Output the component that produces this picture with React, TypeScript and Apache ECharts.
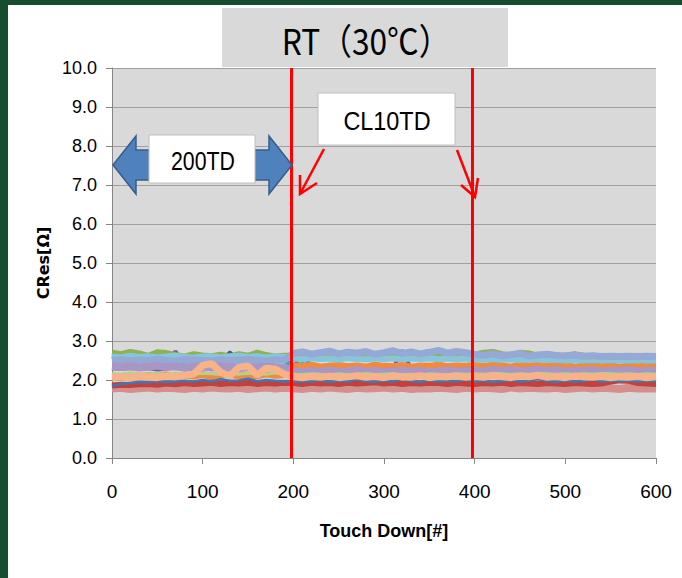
import React, { useEffect, useRef } from "react";
import * as echarts from "echarts";

const TD = [0, 10, 20, 30, 40, 50, 60, 70, 80, 90, 100, 110, 120, 130, 140, 150, 160, 170, 180, 190, 200, 210, 220, 230, 240, 250, 260, 270, 280, 290, 300, 310, 320, 330, 340, 350, 360, 370, 380, 390, 400, 410, 420, 430, 440, 450, 460, 470, 480, 490, 500, 510, 520, 530, 540, 550, 560, 570, 580, 590, 600];

const yTicks = [0, 1, 2, 3, 4, 5, 6, 7, 8, 9, 10];
const xTicks = [0, 100, 200, 300, 400, 500, 600];
const cutLines = [198, 397];

const navy = [2.52, 2.50, 2.53, 2.51, 2.50, 2.52, 2.49, 2.51, 2.53, 2.50, 2.52, 2.51, 2.50, 2.72, 2.51, 2.53, 2.50, 2.52, 2.51, 2.50,
  2.60, 2.62, 2.58, 2.61, 2.63, 2.59, 2.62, 2.60, 2.61, 2.59, 2.62, 2.60, 2.58, 2.61, 2.60, 2.62, 2.59, 2.61, 2.60, 2.62,
  2.58, 2.60, 2.57, 2.59, 2.58, 2.56, 2.60, 2.58, 2.57, 2.58, 2.56, 2.55, 2.56, 2.55, 2.56, 2.55, 2.56, 2.55, 2.56, 2.55, 2.55];
const purple = [2.30, 2.28, 2.31, 2.29, 2.30, 2.27, 2.29, 2.74, 2.30, 2.28, 2.31, 2.29, 2.30, 2.28, 2.31, 2.29, 2.30, 2.28, 2.29, 2.30,
  2.28, 2.76, 2.27, 2.29, 2.28, 2.30, 2.27, 2.29, 2.28, 2.30, 2.27, 2.29, 2.76, 2.28, 2.30, 2.27, 2.29, 2.28, 2.30, 2.28,
  2.29, 2.28, 2.30, 2.27, 2.29, 2.28, 2.30, 2.29, 2.27, 2.28, 2.30, 2.29, 2.28, 2.30, 2.27, 2.29, 2.28, 2.30, 2.29, 2.28, 2.29];
const green = [2.70, 2.66, 2.72, 2.68, 2.62, 2.71, 2.69, 2.64, 2.60, 2.66, 2.63, 2.61, 2.65, 2.60, 2.66, 2.62, 2.70, 2.64, 2.60, 2.62,
  2.62, 2.64, 2.60, 2.63, 2.61, 2.65, 2.62, 2.60, 2.64, 2.61, 2.63, 2.60, 2.62, 2.65, 2.61, 2.63, 2.60, 2.64, 2.62, 2.61,
  2.65, 2.70, 2.72, 2.66, 2.62, 2.70, 2.68, 2.62, 2.60, 2.63, 2.60, 2.66, 2.62, 2.58, 2.57, 2.58, 2.56, 2.57, 2.56, 2.57, 2.56];
const aqua = [2.62, 2.55, 2.50, 2.52, 2.49, 2.51, 2.50, 2.53, 2.48, 2.50, 2.52, 2.49, 2.51, 2.50, 2.48, 2.52, 2.50, 2.49, 2.51, 2.50,
  2.36, 2.40, 2.34, 2.33, 2.38, 2.35, 2.32, 2.36, 2.34, 2.37, 2.33, 2.35, 2.38, 2.34, 2.36, 2.33, 2.37, 2.35, 2.34, 2.36,
  2.34, 2.33, 2.35, 2.32, 2.34, 2.33, 2.35, 2.34, 2.33, 2.32, 2.34, 2.33, 2.32, 2.34, 2.33, 2.32, 2.33, 2.34, 2.32, 2.33, 2.33];
const orange = [2.10, 2.08, 2.12, 2.09, 2.11, 2.10, 2.13, 2.08, 2.12, 2.10, 2.14, 2.09, 2.12, 2.15, 2.10, 2.13, 2.11, 2.16, 2.12, 2.14,
  2.36, 2.34, 2.38, 2.33, 2.35, 2.37, 2.34, 2.36, 2.33, 2.38, 2.35, 2.34, 2.37, 2.33, 2.36, 2.35, 2.38, 2.34, 2.36, 2.35,
  2.37, 2.34, 2.38, 2.36, 2.33, 2.39, 2.35, 2.37, 2.34, 2.36, 2.38, 2.33, 2.35, 2.37, 2.34, 2.36, 2.33, 2.35, 2.34, 2.36, 2.35];
const lightAqua = [2.60, 2.58, 2.62, 2.59, 2.61, 2.58, 2.60, 2.62, 2.59, 2.57, 2.60, 2.61, 2.58, 2.60, 2.62, 2.59, 2.61, 2.58, 2.60, 2.59,
  2.55, 2.53, 2.56, 2.54, 2.55, 2.52, 2.56, 2.54, 2.53, 2.55, 2.54, 2.56, 2.53, 2.55, 2.54, 2.56, 2.53, 2.55, 2.54, 2.55,
  2.53, 2.52, 2.54, 2.52, 2.53, 2.51, 2.52, 2.53, 2.51, 2.52, 2.50, 2.51, 2.50, 2.51, 2.50, 2.51, 2.50, 2.50, 2.51, 2.50, 2.50];
const lightBlue = [2.50, 2.52, 2.49, 2.51, 2.50, 2.53, 2.50, 2.48, 2.52, 2.51, 2.50, 2.49, 2.52, 2.50, 2.51, 2.53, 2.50, 2.49, 2.52, 2.51,
  2.68, 2.72, 2.66, 2.70, 2.74, 2.67, 2.71, 2.69, 2.73, 2.66, 2.70, 2.75, 2.68, 2.72, 2.67, 2.71, 2.76, 2.69, 2.73, 2.70,
  2.66, 2.63, 2.67, 2.62, 2.65, 2.68, 2.61, 2.64, 2.66, 2.63, 2.62, 2.64, 2.61, 2.62, 2.60, 2.61, 2.60, 2.61, 2.60, 2.61, 2.60];
const lightPurple = [2.35, 2.33, 2.36, 2.32, 2.34, 2.37, 2.33, 2.35, 2.31, 2.34, 2.36, 2.32, 2.35, 2.33, 2.30, 2.34, 2.32, 2.35, 2.33, 2.31,
  2.22, 2.20, 2.23, 2.21, 2.24, 2.20, 2.22, 2.25, 2.21, 2.23, 2.20, 2.22, 2.24, 2.21, 2.23, 2.20, 2.22, 2.24, 2.21, 2.23,
  2.24, 2.22, 2.26, 2.23, 2.25, 2.22, 2.24, 2.26, 2.23, 2.25, 2.22, 2.24, 2.23, 2.25, 2.22, 2.24, 2.23, 2.25, 2.22, 2.24, 2.23];
const lightGreen = [2.17, 2.15, 2.18, 2.16, 2.14, 2.17, 2.15, 2.18, 2.16, 2.15, 2.17, 2.16, 2.14, 2.18, 2.15, 2.17, 2.16, 2.15, 2.18, 2.16,
  2.15, 2.14, 2.16, 2.15, 2.13, 2.16, 2.14, 2.15, 2.17, 2.14, 2.15, 2.16, 2.14, 2.15, 2.13, 2.16, 2.15, 2.14, 2.16, 2.15,
  2.16, 2.15, 2.17, 2.16, 2.14, 2.16, 2.15, 2.17, 2.16, 2.15, 2.16, 2.14, 2.16, 2.15, 2.17, 2.16, 2.15, 2.16, 2.14, 2.16, 2.15];
const pink = [1.78, 1.80, 1.77, 1.79, 1.81, 1.78, 1.80, 1.79, 1.77, 1.80, 1.78, 1.81, 1.79, 1.78, 1.80, 1.77, 1.79, 1.81, 1.78, 1.80,
  1.79, 1.77, 1.80, 1.78, 1.81, 1.79, 1.77, 1.80, 1.78, 1.79, 1.81, 1.78, 1.80, 1.77, 1.79, 1.78, 1.80, 1.79, 1.77, 1.80,
  1.78, 1.80, 1.79, 1.77, 1.81, 1.78, 1.80, 1.79, 1.78, 1.80, 1.77, 1.79, 1.81, 1.78, 1.80, 1.79, 1.77, 1.80, 1.78, 1.79, 1.78];
const red = [1.86, 1.88, 1.87, 1.89, 1.90, 1.88, 1.91, 1.89, 1.92, 1.90, 1.91, 1.93, 1.90, 1.92, 1.91, 1.93, 1.90, 1.92, 1.91, 1.93,
  1.92, 1.90, 1.93, 1.91, 1.92, 1.90, 1.93, 1.91, 1.92, 1.94, 1.91, 1.93, 1.90, 1.92, 1.91, 1.93, 1.92, 1.90, 1.93, 1.91,
  1.90, 1.92, 1.91, 1.93, 1.90, 1.92, 1.91, 1.90, 1.92, 1.91, 1.90, 1.92, 1.91, 1.90, 1.91, 1.96, 1.99, 1.98, 1.92, 1.91, 1.90];
const blue = [1.84, 1.90, 1.93, 1.95, 1.94, 1.97, 1.95, 1.96, 1.98, 1.96, 2.00, 1.97, 2.02, 1.98, 1.99, 2.03, 1.97, 2.00, 1.98, 1.97,
  1.95, 1.97, 1.96, 2.00, 1.95, 1.98, 1.96, 2.02, 1.97, 1.95, 1.98, 1.96, 2.03, 1.97, 1.95, 1.99, 1.96, 1.98, 1.97, 2.01,
  1.96, 1.98, 1.95, 1.97, 2.00, 1.96, 1.98, 2.03, 1.97, 1.95, 1.98, 1.96, 1.97, 2.02, 1.96, 1.98, 1.97, 1.99, 1.96, 1.98, 1.97];
const peach = [2.06, 2.08, 2.05, 2.09, 2.07, 2.06, 2.10, 2.08, 2.12, 2.15, 2.38, 2.42, 2.20, 2.10, 2.33, 2.36, 2.12, 2.30, 2.28, 2.15,
  2.08, 2.06, 2.09, 2.07, 2.10, 2.06, 2.08, 2.11, 2.07, 2.09, 2.06, 2.10, 2.08, 2.07, 2.11, 2.06, 2.09, 2.08, 2.10, 2.07,
  2.09, 2.07, 2.11, 2.08, 2.06, 2.10, 2.08, 2.12, 2.07, 2.09, 2.06, 2.10, 2.08, 2.07, 2.09, 2.06, 2.08, 2.07, 2.09, 2.06, 2.08];

const SANS = '"Liberation Sans", Arial, sans-serif';
const CJK = '"Noto Sans CJK JP", "Noto Sans", sans-serif';

export default function App() {
  const ref = useRef<HTMLDivElement>(null);
  useEffect(() => {
    if (!ref.current) return;
    const chart = echarts.init(ref.current, undefined, { renderer: "svg" });
    const mk = (name: string, values: number[], color: string, width: number, extra: any = {}) => ({
      type: "line",
      name,
      data: TD.map((x, i) => [x, values[i]]),
      symbol: "none",
      showSymbol: false,
      silent: true,
      lineStyle: { color, width },
      itemStyle: { color },
      ...extra,
    });
    const series = [
      mk("S1", navy, "#3A5F9E", 3),
      mk("S2", purple, "#7A5C9E", 4),
      mk("S3", green, "#8DB255", 6),
      mk("S4", aqua, "#3FA6C0", 5),
      mk("S5", orange, "#F08A3C", 7),
      mk("S6", lightAqua, "#87C6DA", 6),
      mk("S7", lightBlue, "#95A9D6", 7),
      mk("S8", lightPurple, "#A897C5", 8),
      mk("S9", lightGreen, "#B5CF8C", 3),
      mk("S10", pink, "#D58E8C", 8),
      mk("S11", red, "#C0413E", 6),
      mk("S12", blue, "#3F78B5", 2.5),
      mk("S13", peach, "#F7B287", 7, {
        markLine: {
          silent: true,
          symbol: ["none", "none"],
          label: { show: false },
          lineStyle: { color: "#FF0000", width: 3, type: "solid" },
          data: cutLines.map((v) => ({ xAxis: v })),
        },
      }),
    ];
    const textEl = (text: string, x: number, y: number, size: number, sx: number, font: string) => ({
      type: "text",
      silent: true,
      x,
      y,
      scaleX: sx,
      z: 12,
      style: { text, font: `${size}px ${font}`, fill: "#000", align: "center", verticalAlign: "middle" },
    });
    chart.setOption({
      animation: false,
      backgroundColor: "transparent",
      grid: {
        left: 112,
        right: 26,
        top: 68,
        bottom: 120,
        show: true,
        backgroundColor: "#D9D9D9",
        borderWidth: 0,
      },
      xAxis: {
        type: "value",
        min: xTicks[0],
        max: xTicks[xTicks.length - 1],
        interval: 100,
        name: "Touch Down[#]",
        nameLocation: "middle",
        nameGap: 64,
        nameTextStyle: { fontFamily: SANS, fontWeight: "bold", fontSize: 18, color: "#000" },
        axisLine: { show: true, lineStyle: { color: "#868686", width: 1 } },
        axisTick: { show: true, length: 6, lineStyle: { color: "#868686" } },
        axisLabel: { fontFamily: SANS, fontSize: 19, color: "#000", margin: 24 },
        splitLine: { show: false },
      },
      yAxis: {
        type: "value",
        min: yTicks[0],
        max: yTicks[yTicks.length - 1],
        interval: 1,
        name: "CRes[Ω]",
        nameLocation: "middle",
        nameGap: 58,
        nameTextStyle: { fontFamily: '"DejaVu Sans", sans-serif', fontWeight: "bold", fontSize: 16, color: "#000" },
        axisLine: { show: true, lineStyle: { color: "#868686", width: 1 } },
        axisTick: { show: true, length: 6, lineStyle: { color: "#868686" } },
        axisLabel: {
          fontFamily: SANS,
          fontSize: 18,
          color: "#000",
          margin: 15,
          formatter: (v: number) => v.toFixed(1),
        },
        splitLine: { show: true, lineStyle: { color: "#A0A0A0", width: 1 } },
      },
      graphic: [
        { type: "rect", silent: true, shape: { x: 222, y: 8, width: 286, height: 59 }, style: { fill: "#D9D9D9" }, z: 0 },
        textEl("RT（30℃）", 366, 40, 36, 0.88, CJK),
        {
          type: "polygon",
          silent: true,
          shape: {
            points: [
              [113, 165], [136, 136], [136, 150], [269, 150], [269, 136], [292, 165],
              [269, 194], [269, 180], [136, 180], [136, 194],
            ],
          },
          style: { fill: "#4F81BD", stroke: "#385D8A", lineWidth: 1.5 },
          z: 10,
        },
        {
          type: "rect",
          silent: true,
          shape: { x: 149, y: 135, width: 106, height: 48 },
          style: { fill: "#FFFFFF", stroke: "#BFBFBF", lineWidth: 1 },
          z: 11,
        },
        textEl("200TD", 203, 161, 26, 0.82, SANS),
        {
          type: "rect",
          silent: true,
          shape: { x: 318, y: 93, width: 137, height: 52 },
          style: { fill: "#FFFFFF", stroke: "#BFBFBF", lineWidth: 1 },
          z: 11,
        },
        textEl("CL10TD", 387, 121, 26, 0.9, SANS),
        {
          type: "polyline",
          silent: true,
          z: 12,
          shape: { points: [[324, 149], [300, 194]] },
          style: { stroke: "#FF0000", lineWidth: 2.5, fill: "none" },
        },
        {
          type: "polyline",
          silent: true,
          z: 12,
          shape: { points: [[300, 175], [300, 194], [317, 183]] },
          style: { stroke: "#FF0000", lineWidth: 2.5, fill: "none" },
        },
        {
          type: "polyline",
          silent: true,
          z: 12,
          shape: { points: [[457, 150], [475, 197]] },
          style: { stroke: "#FF0000", lineWidth: 2.5, fill: "none" },
        },
        {
          type: "polyline",
          silent: true,
          z: 12,
          shape: { points: [[461, 185], [475, 197], [478, 178]] },
          style: { stroke: "#FF0000", lineWidth: 2.5, fill: "none" },
        },
      ],
      series,
    });
    return () => chart.dispose();
  }, []);

  return (
    <div style={{ position: "absolute", left: 0, top: 0, width: 682, height: 578, background: "#174D2E", overflow: "hidden" }}>
      <div style={{ position: "absolute", left: 8, top: 5, width: 674, height: 573, background: "#FFFFFF" }} />
      <div ref={ref} style={{ position: "absolute", left: 0, top: 0, width: 682, height: 578 }} />
    </div>
  );
}
